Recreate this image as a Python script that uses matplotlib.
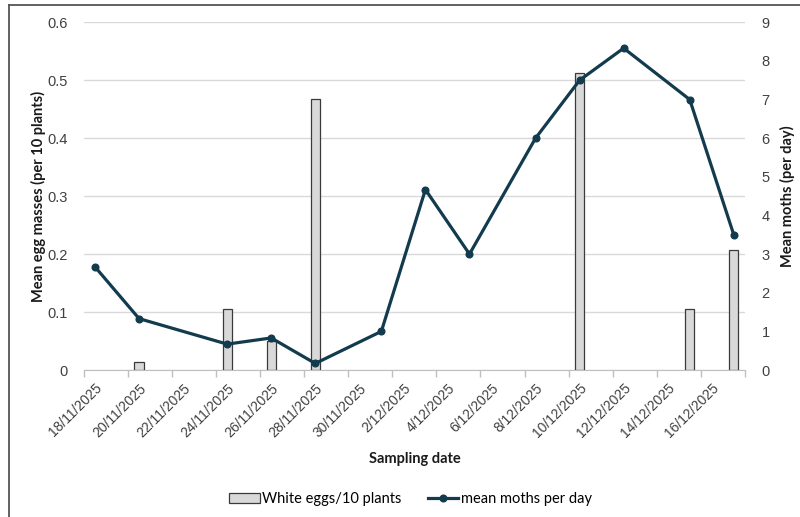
import datetime as dt
import matplotlib
matplotlib.use("Agg")
import matplotlib.pyplot as plt
import matplotlib.dates as mdates
from matplotlib.lines import Line2D
from matplotlib.patches import Patch

# Egg counts (left axis)
egg_dates = ["20/11/2025", "24/11/2025", "26/11/2025", "28/11/2025",
             "10/12/2025", "15/12/2025", "17/12/2025"]
egg_values = [0.014, 0.105, 0.05, 0.468, 0.512, 0.105, 0.207]

# Moth trap catches (right axis)
moth_dates = ["18/11/2025", "20/11/2025", "24/11/2025", "26/11/2025",
              "28/11/2025", "1/12/2025", "3/12/2025", "5/12/2025",
              "8/12/2025", "10/12/2025", "12/12/2025", "15/12/2025",
              "17/12/2025"]
moth_values = [2.67, 1.33, 0.67, 0.83, 0.17, 1.0, 4.67, 3.0,
               6.0, 7.5, 8.33, 7.0, 3.5]

axis_start = "18/11/2025"
axis_days = 30
label_step = 2
left_ticks = [0, 0.1, 0.2, 0.3, 0.4, 0.5, 0.6]
right_ticks = list(range(0, 10))


def to_num(s):
    return mdates.date2num(dt.datetime.strptime(s, "%d/%m/%Y"))


def to_label(x):
    d = mdates.num2date(x)
    return f"{d.day}/{d.month}/{d.year}"


start = to_num(axis_start)
egg_x = [to_num(d) for d in egg_dates]
moth_x = [to_num(d) for d in moth_dates]

line_color = "#133B4E"
text_color = "#404040"
label_font = ["Lato", "DejaVu Sans"]
tick_font = ["Liberation Sans", "DejaVu Sans"]

fig = plt.figure(figsize=(8.0, 5.17), dpi=100)
ax = fig.add_axes([0.105, 0.2843, 0.826, 0.6726])
ax2 = ax.twinx()

ax.bar(egg_x, egg_values, width=0.42, color="#D9D9D9",
       edgecolor="#3A3A3A", linewidth=0.9, zorder=2)
ax2.plot(moth_x, moth_values, color=line_color, lw=2.3, marker="o",
         markersize=4.8, zorder=3)

ax.set_xlim(start - 0.5, start - 0.5 + axis_days)
ax.set_ylim(0, 0.6)
ax2.set_ylim(0, 9)

ax.set_yticks(left_ticks)
ax.set_yticklabels(["0" if v == 0 else f"{v:.1f}" for v in left_ticks],
                   family=tick_font, fontsize=10.5, color=text_color)
ax2.set_yticks(right_ticks)
ax2.set_yticklabels([str(v) for v in right_ticks],
                    family=tick_font, fontsize=10.5, color=text_color)

# Date labels centred on each day, tick marks on day boundaries
label_pos = [start + k for k in range(0, axis_days - 1, label_step)]
ax.set_xticks(label_pos)
ax.set_xticklabels([to_label(p) for p in label_pos], rotation=45,
                   ha="right", rotation_mode="anchor", family=tick_font,
                   fontsize=10, color=text_color)
ax.set_xticks([start - 0.5 + k for k in range(0, axis_days + 1, label_step)],
              minor=True)
ax.tick_params(axis="x", which="major", length=0, pad=8)
ax.tick_params(axis="x", which="minor", length=5, color="#BFBFBF",
               width=1)
ax.tick_params(axis="y", length=0, pad=12)
ax2.tick_params(axis="y", length=0, pad=12)

ax.grid(axis="y", color="#D9D9D9", lw=1)
ax.set_axisbelow(True)
for a in (ax, ax2):
    for side in ("left", "right", "top", "bottom"):
        a.spines[side].set_visible(False)
ax.spines["bottom"].set_visible(True)
ax.spines["bottom"].set_color("#BFBFBF")

ax.set_ylabel("Mean egg masses (per 10 plants)", family=label_font,
              fontweight="bold", fontsize=10.5, color="#1A1A1A", labelpad=1)
ax2.set_ylabel("Mean moths (per day)", family=label_font,
               fontweight="bold", fontsize=10.5, color="#1A1A1A", labelpad=7)
ax.set_xlabel("Sampling date", family=label_font, fontweight="bold",
              fontsize=10.5, color="#1A1A1A", labelpad=8)

handles = [Patch(facecolor="#D9D9D9", edgecolor="#3A3A3A", linewidth=0.9),
           Line2D([], [], color=line_color, lw=2.3, marker="o",
                  markersize=4.8)]
fig.legend(handles, ["White eggs/10 plants", "mean moths per day"],
           loc="center", bbox_to_anchor=(0.513, 1 - 499 / 517), ncol=2,
           frameon=False, handlelength=2.1, handletextpad=0.15,
           columnspacing=1.8, prop={"family": label_font, "size": 10.5})

# Outer frame (left and top edges)
fig.add_artist(Line2D([9 / 800, 9 / 800], [0, 1 - 5 / 517],
                      transform=fig.transFigure, color="#555555", lw=1.3))
fig.add_artist(Line2D([9 / 800, 1], [1 - 5 / 517, 1 - 5 / 517],
                      transform=fig.transFigure, color="#555555", lw=1.3))

fig.savefig("out.png", dpi=100)
